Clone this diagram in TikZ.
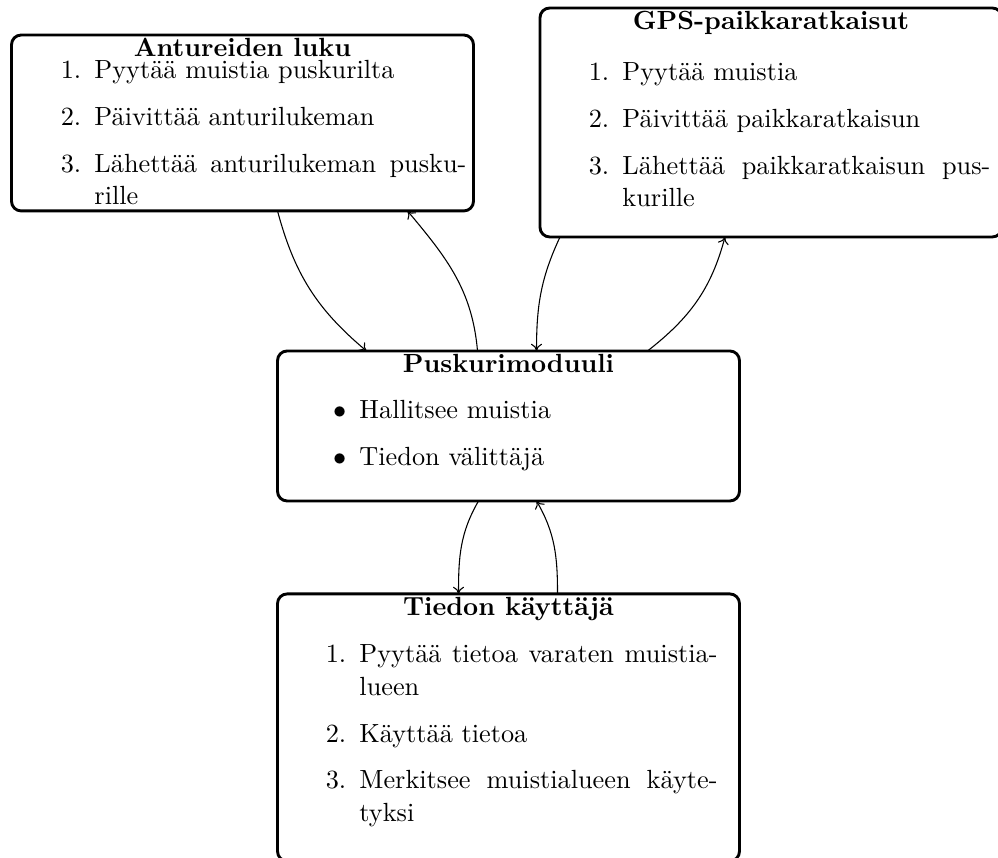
\documentclass[11pt,tikz,border=0pt]{standalone}
\usepackage{fontspec}
\usetikzlibrary{calc,arrows.meta}

% shared list geometry for the box contents
\newcommand\listsetup{%
  \setlength{\leftmargin}{27.5pt}%
  \setlength{\labelsep}{5.5pt}%
  \setlength{\labelwidth}{22pt}%
  \setlength{\itemindent}{0pt}%
  \setlength{\listparindent}{0pt}%
  \setlength{\itemsep}{5.8pt}%
  \setlength{\parsep}{0pt}%
  \setlength{\topsep}{0pt}%
  \setlength{\partopsep}{0pt}}
\newcounter{stepno}
\newenvironment{stepslist}{\begin{list}{\arabic{stepno}.}{\usecounter{stepno}\listsetup}}{\end{list}}
\newenvironment{pointslist}{\begin{list}{$\bullet$}{\listsetup}}{\end{list}}
% box body: top-aligned paragraph block, only the marked hyphenation points
\newcommand\boxbody[2]{\begin{minipage}[t]{#1}\lefthyphenmin=64\relax #2\end{minipage}}

\tikzset{
  module/.style={draw, rounded corners=4pt, very thick, inner sep=0pt, outer sep=0pt,
                 minimum width=192.5pt},
  heading/.style={anchor=base, font=\bfseries, inner sep=0pt},
  body/.style={anchor=base west, inner sep=0pt},
  link/.style={-{To[length=3pt,width=4.6pt]}, line width=0.45pt}
}

\begin{document}
\begin{tikzpicture}[x=0.4167pt, y=0.4167pt]
\useasboundingbox (0,0) rectangle (998,858);

% module frames
\node[module, minimum height=73.3pt]  (A) at (242.5,735) {};
\node[module, minimum height=95.4pt]  (G) at (771,735.5) {};
\node[module, minimum height=62.5pt]  (P) at (508.5,432) {};
\node[module, minimum height=111.3pt] (T) at (508.5,130.5) {};

% headings
\node[heading] (At) at (242.5,801) {Antureiden luku};
\node[heading] (Gt) at (771,828)   {GPS-paikkaratkaisut};
\node[heading] (Pt) at (508.5,485) {Puskurimoduuli};
\node[heading] (Tt) at (508.5,242) {Tiedon käyttäjä};

% contents
\node[body] (Ab) at (28,779) {\boxbody{182.5pt}{\begin{stepslist}
  \item Pyytää muistia puskurilta
  \item Päivittää anturilukeman
  \item Lähettää anturilukeman pusku\-rille
\end{stepslist}}};
\node[body] (Gb) at (556,777) {\boxbody{180.8pt}{\begin{stepslist}
  \item Pyytää muistia
  \item Päivittää paikkaratkaisun
  \item Lähettää paikkaratkaisun pus\-kurille
\end{stepslist}}};
\node[body] (Pb) at (293,439) {\boxbody{180pt}{\begin{pointslist}
  \item Hallitsee muistia
  \item Tiedon välittäjä
\end{pointslist}}};
\node[body] (Tb) at (293,195) {\boxbody{176.7pt}{\begin{stepslist}
  \item Pyytää tietoa varaten muistia\-lueen
  \item Käyttää tietoa
  \item Merkitsee muistialueen käyte\-tyksi
\end{stepslist}}};

% data flow between the modules
\draw[link] ($(A.south west)+(266,0)$) to[out=-75,in=140] ($(P.north west)+(89,0)$);
\draw[link] ($(P.north west)+(200,0)$) to[out=95,in=-50]  ($(A.south west)+(396,0)$);
\draw[link] ($(G.south west)+(20,0)$)  to[out=-115,in=90] ($(P.north west)+(259,0)$);
\draw[link] ($(P.north west)+(370,0)$) to[out=38,in=-105] ($(G.south west)+(185,0)$);
\draw[link] ($(P.south west)+(201,0)$) to[out=-120,in=90] ($(T.north west)+(181,0)$);
\draw[link] ($(T.north west)+(280,0)$) to[out=90,in=-60]  ($(P.south west)+(259,0)$);
\end{tikzpicture}
\end{document}
